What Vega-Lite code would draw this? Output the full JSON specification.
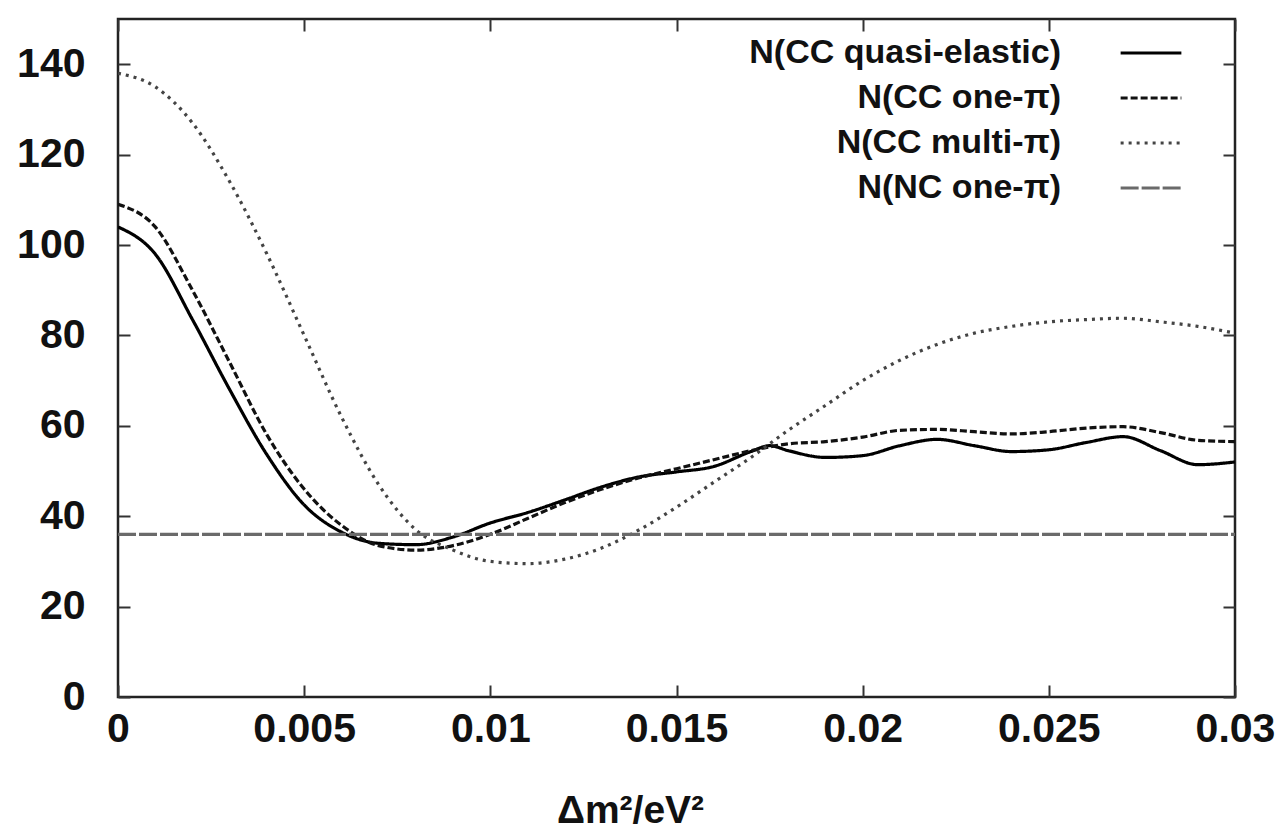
{
  "$schema": "https://vega.github.io/schema/vega-lite/v6.json",
  "width": 1117,
  "height": 678,
  "autosize": {"type": "none"},
  "padding": {"left": 118, "top": 19, "right": 48, "bottom": 138},
  "background": "white",
  "config": {
    "view": {"stroke": "#222", "strokeWidth": 2.5},
    "font": "Liberation Sans",
    "axis": {
      "labelFont": "Liberation Sans",
      "labelFontWeight": "bold",
      "labelFontSize": 41,
      "labelColor": "#111",
      "titleFont": "Liberation Sans",
      "titleFontWeight": "bold",
      "titleFontSize": 39,
      "titleColor": "#111",
      "domain": false,
      "grid": false,
      "tickColor": "#333",
      "tickWidth": 2,
      "tickSize": -12,
      "labelFlush": false
    }
  },
  "data": {
    "values": [
      {"x": 0.000, "y": 104, "series": "N(CC quasi-elastic)"},
      {"x": 0.001, "y": 98, "series": "N(CC quasi-elastic)"},
      {"x": 0.002, "y": 83.5, "series": "N(CC quasi-elastic)"},
      {"x": 0.003, "y": 68, "series": "N(CC quasi-elastic)"},
      {"x": 0.004, "y": 53.6, "series": "N(CC quasi-elastic)"},
      {"x": 0.005, "y": 42.5, "series": "N(CC quasi-elastic)"},
      {"x": 0.006, "y": 36.5, "series": "N(CC quasi-elastic)"},
      {"x": 0.007, "y": 34, "series": "N(CC quasi-elastic)"},
      {"x": 0.008, "y": 33.7, "series": "N(CC quasi-elastic)"},
      {"x": 0.009, "y": 35.4, "series": "N(CC quasi-elastic)"},
      {"x": 0.010, "y": 38.5, "series": "N(CC quasi-elastic)"},
      {"x": 0.011, "y": 40.8, "series": "N(CC quasi-elastic)"},
      {"x": 0.012, "y": 43.6, "series": "N(CC quasi-elastic)"},
      {"x": 0.013, "y": 46.5, "series": "N(CC quasi-elastic)"},
      {"x": 0.014, "y": 48.7, "series": "N(CC quasi-elastic)"},
      {"x": 0.015, "y": 49.8, "series": "N(CC quasi-elastic)"},
      {"x": 0.016, "y": 51, "series": "N(CC quasi-elastic)"},
      {"x": 0.017, "y": 54.3, "series": "N(CC quasi-elastic)"},
      {"x": 0.0175, "y": 55.6, "series": "N(CC quasi-elastic)"},
      {"x": 0.018, "y": 54.5, "series": "N(CC quasi-elastic)"},
      {"x": 0.019, "y": 53, "series": "N(CC quasi-elastic)"},
      {"x": 0.020, "y": 53.4, "series": "N(CC quasi-elastic)"},
      {"x": 0.021, "y": 55.6, "series": "N(CC quasi-elastic)"},
      {"x": 0.022, "y": 57, "series": "N(CC quasi-elastic)"},
      {"x": 0.023, "y": 55.6, "series": "N(CC quasi-elastic)"},
      {"x": 0.024, "y": 54.3, "series": "N(CC quasi-elastic)"},
      {"x": 0.025, "y": 54.7, "series": "N(CC quasi-elastic)"},
      {"x": 0.026, "y": 56.3, "series": "N(CC quasi-elastic)"},
      {"x": 0.027, "y": 57.6, "series": "N(CC quasi-elastic)"},
      {"x": 0.028, "y": 54.5, "series": "N(CC quasi-elastic)"},
      {"x": 0.029, "y": 51.4, "series": "N(CC quasi-elastic)"},
      {"x": 0.030, "y": 52, "series": "N(CC quasi-elastic)"},

      {"x": 0.000, "y": 109, "series": "N(CC one-π)"},
      {"x": 0.001, "y": 104, "series": "N(CC one-π)"},
      {"x": 0.002, "y": 90, "series": "N(CC one-π)"},
      {"x": 0.003, "y": 74, "series": "N(CC one-π)"},
      {"x": 0.004, "y": 58, "series": "N(CC one-π)"},
      {"x": 0.005, "y": 46, "series": "N(CC one-π)"},
      {"x": 0.006, "y": 38, "series": "N(CC one-π)"},
      {"x": 0.007, "y": 33.5, "series": "N(CC one-π)"},
      {"x": 0.008, "y": 32.5, "series": "N(CC one-π)"},
      {"x": 0.009, "y": 33.5, "series": "N(CC one-π)"},
      {"x": 0.010, "y": 36, "series": "N(CC one-π)"},
      {"x": 0.011, "y": 39.5, "series": "N(CC one-π)"},
      {"x": 0.012, "y": 43, "series": "N(CC one-π)"},
      {"x": 0.013, "y": 46, "series": "N(CC one-π)"},
      {"x": 0.014, "y": 48.5, "series": "N(CC one-π)"},
      {"x": 0.015, "y": 50.5, "series": "N(CC one-π)"},
      {"x": 0.016, "y": 52.5, "series": "N(CC one-π)"},
      {"x": 0.017, "y": 54.5, "series": "N(CC one-π)"},
      {"x": 0.018, "y": 56, "series": "N(CC one-π)"},
      {"x": 0.019, "y": 56.5, "series": "N(CC one-π)"},
      {"x": 0.020, "y": 57.5, "series": "N(CC one-π)"},
      {"x": 0.021, "y": 59, "series": "N(CC one-π)"},
      {"x": 0.022, "y": 59.2, "series": "N(CC one-π)"},
      {"x": 0.023, "y": 58.7, "series": "N(CC one-π)"},
      {"x": 0.024, "y": 58.2, "series": "N(CC one-π)"},
      {"x": 0.025, "y": 58.7, "series": "N(CC one-π)"},
      {"x": 0.026, "y": 59.5, "series": "N(CC one-π)"},
      {"x": 0.027, "y": 59.8, "series": "N(CC one-π)"},
      {"x": 0.028, "y": 58.5, "series": "N(CC one-π)"},
      {"x": 0.029, "y": 56.8, "series": "N(CC one-π)"},
      {"x": 0.030, "y": 56.5, "series": "N(CC one-π)"},

      {"x": 0.000, "y": 138, "series": "N(CC multi-π)"},
      {"x": 0.001, "y": 135, "series": "N(CC multi-π)"},
      {"x": 0.002, "y": 127, "series": "N(CC multi-π)"},
      {"x": 0.003, "y": 114, "series": "N(CC multi-π)"},
      {"x": 0.004, "y": 98, "series": "N(CC multi-π)"},
      {"x": 0.005, "y": 80, "series": "N(CC multi-π)"},
      {"x": 0.006, "y": 62, "series": "N(CC multi-π)"},
      {"x": 0.007, "y": 47, "series": "N(CC multi-π)"},
      {"x": 0.008, "y": 37, "series": "N(CC multi-π)"},
      {"x": 0.009, "y": 32.5, "series": "N(CC multi-π)"},
      {"x": 0.010, "y": 30, "series": "N(CC multi-π)"},
      {"x": 0.011, "y": 29.5, "series": "N(CC multi-π)"},
      {"x": 0.012, "y": 30.5, "series": "N(CC multi-π)"},
      {"x": 0.013, "y": 33, "series": "N(CC multi-π)"},
      {"x": 0.014, "y": 37, "series": "N(CC multi-π)"},
      {"x": 0.015, "y": 42, "series": "N(CC multi-π)"},
      {"x": 0.016, "y": 47.5, "series": "N(CC multi-π)"},
      {"x": 0.017, "y": 53, "series": "N(CC multi-π)"},
      {"x": 0.018, "y": 59, "series": "N(CC multi-π)"},
      {"x": 0.019, "y": 64.5, "series": "N(CC multi-π)"},
      {"x": 0.020, "y": 70, "series": "N(CC multi-π)"},
      {"x": 0.021, "y": 74.5, "series": "N(CC multi-π)"},
      {"x": 0.022, "y": 78, "series": "N(CC multi-π)"},
      {"x": 0.023, "y": 80.5, "series": "N(CC multi-π)"},
      {"x": 0.024, "y": 82, "series": "N(CC multi-π)"},
      {"x": 0.025, "y": 83, "series": "N(CC multi-π)"},
      {"x": 0.026, "y": 83.5, "series": "N(CC multi-π)"},
      {"x": 0.027, "y": 83.8, "series": "N(CC multi-π)"},
      {"x": 0.028, "y": 83, "series": "N(CC multi-π)"},
      {"x": 0.029, "y": 82, "series": "N(CC multi-π)"},
      {"x": 0.030, "y": 80.5, "series": "N(CC multi-π)"},

      {"x": 0.000, "y": 36, "series": "N(NC one-π)"},
      {"x": 0.030, "y": 36, "series": "N(NC one-π)"}
    ]
  },
  "layer": [
    {
      "mark": {"type": "line", "interpolate": "monotone", "strokeWidth": 3.2, "clip": true},
      "encoding": {
        "x": {
          "field": "x", "type": "quantitative",
          "scale": {"domain": [0, 0.03], "nice": false},
          "axis": {"orient": "bottom", "values": [0, 0.005, 0.01, 0.015, 0.02, 0.025, 0.03], "format": "~g", "labelPadding": 24, "title": "Δm²/eV²", "titleX": 512, "titleY": 125, "titleBaseline": "alphabetic", "titleAnchor": "start", "titleAlign": "center"}
        },
        "y": {
          "field": "y", "type": "quantitative",
          "scale": {"domain": [0, 150], "nice": false},
          "axis": {"orient": "left", "values": [0, 20, 40, 60, 80, 100, 120, 140], "labelPadding": 45, "title": null}
        },
        "color": {
          "field": "series", "type": "nominal",
          "scale": {"domain": ["N(CC quasi-elastic)", "N(CC one-π)", "N(CC multi-π)", "N(NC one-π)"], "range": ["#000000", "#111111", "#444444", "#6a6a6a"]},
          "legend": {
            "title": null, "orient": "none", "legendX": 1009, "legendY": 10,
            "symbolType": "M-1.35,0H1.35", "symbolSize": 2025, "symbolStrokeWidth": 3,
            "labelAlign": "right", "labelOffset": -114, "labelFontSize": 34, "labelFontWeight": "bold", "labelFont": "Liberation Sans", "labelColor": "#111",
            "rowPadding": 4, "labelLimit": 600
          }
        },
        "strokeDash": {
          "field": "series", "type": "nominal",
          "scale": {"domain": ["N(CC quasi-elastic)", "N(CC one-π)", "N(CC multi-π)", "N(NC one-π)"], "range": [[1, 0], [7, 3], [3, 5], [18, 3]]},
          "legend": {
            "title": null, "orient": "none", "legendX": 1009, "legendY": 10,
            "symbolType": "M-1.35,0H1.35", "symbolSize": 2025, "symbolStrokeWidth": 3,
            "labelAlign": "right", "labelOffset": -114, "labelFontSize": 34, "labelFontWeight": "bold", "labelFont": "Liberation Sans", "labelColor": "#111",
            "rowPadding": 4, "labelLimit": 600
          }
        }
      }
    },
    {
      "mark": {"type": "point", "opacity": 0},
      "encoding": {
        "x": {"field": "x", "type": "quantitative", "axis": {"orient": "top", "values": [0, 0.005, 0.01, 0.015, 0.02, 0.025, 0.03], "labels": false, "title": null}},
        "y": {"field": "y", "type": "quantitative", "axis": {"orient": "right", "values": [0, 20, 40, 60, 80, 100, 120, 140], "labels": false, "title": null}}
      }
    }
  ],
  "resolve": {"axis": {"x": "independent", "y": "independent"}}
}
